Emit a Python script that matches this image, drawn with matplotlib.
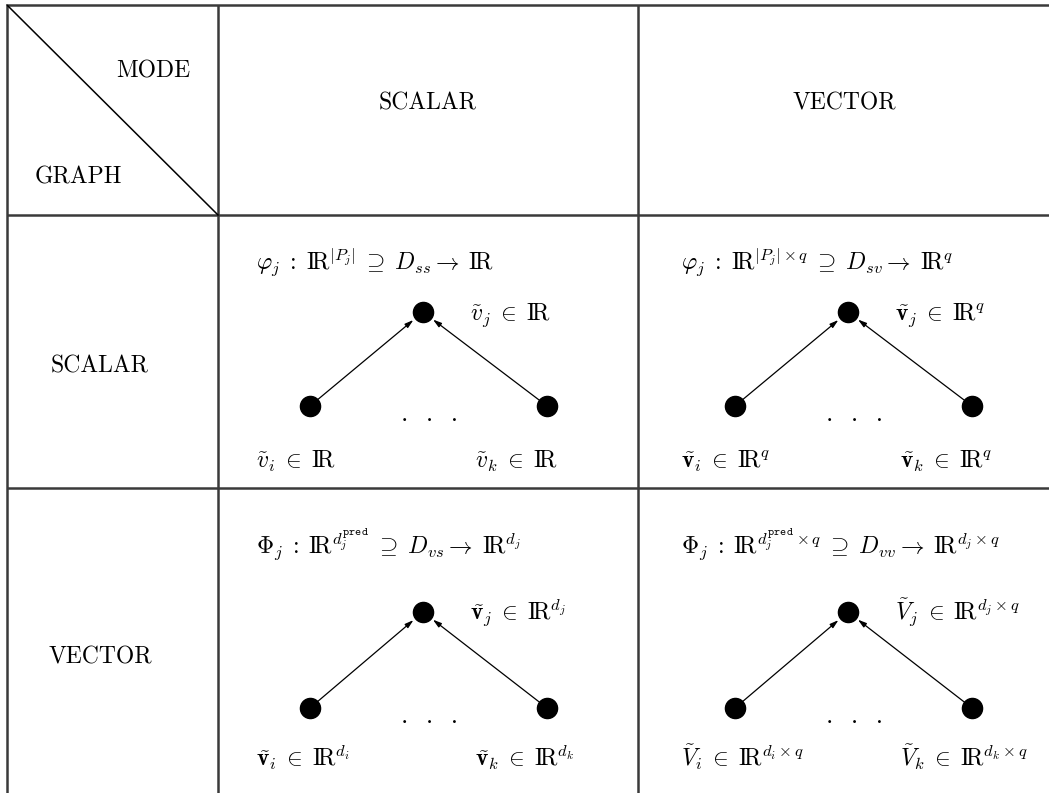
import matplotlib
matplotlib.use("Agg")
import matplotlib.pyplot as plt

plt.rcParams['mathtext.fontset'] = 'cm'
plt.rcParams['font.family'] = ['cmr10', 'DejaVu Serif']

# Table contents
corner_top = "MODE"
corner_bottom = "GRAPH"
col_labels = ["SCALAR", "VECTOR"]
row_labels = ["SCALAR", "VECTOR"]

R = r"\mathrm{I\!R}"
maps = [
    [r"$\varphi_j\;:\;" + R + r"^{|P_j|}\;\supseteq\;D_{ss}\rightarrow\;" + R + "$",
     r"$\varphi_j\;:\;" + R + r"^{|P_j|\times q}\;\supseteq\;D_{sv}\rightarrow\;" + R + "^q$"],
    [r"$\Phi_j\;:\;" + R + r"^{d_j^{\mathtt{pred}}}\;\supseteq\;D_{vs}\rightarrow\;" + R + "^{d_j}$",
     r"$\Phi_j\;:\;" + R + r"^{d_j^{\mathtt{pred}}\times q}\;\supseteq\;D_{vv}\rightarrow\;" + R + r"^{d_j\times q}$"],
]
top_labels = [
    [r"$\tilde{v}_j\;\in\;" + R + "$", r"$\tilde{\mathbf{v}}_j\;\in\;" + R + "^q$"],
    [r"$\tilde{\mathbf{v}}_j\;\in\;" + R + "^{d_j}$", r"$\tilde{V}_j\;\in\;" + R + r"^{d_j\times q}$"],
]
left_labels = [
    [r"$\tilde{v}_i\;\in\;" + R + "$", r"$\tilde{\mathbf{v}}_i\;\in\;" + R + "^q$"],
    [r"$\tilde{\mathbf{v}}_i\;\in\;" + R + "^{d_i}$", r"$\tilde{V}_i\;\in\;" + R + r"^{d_i\times q}$"],
]
right_labels = [
    [r"$\tilde{v}_k\;\in\;" + R + "$", r"$\tilde{\mathbf{v}}_k\;\in\;" + R + "^q$"],
    [r"$\tilde{\mathbf{v}}_k\;\in\;" + R + "^{d_k}$", r"$\tilde{V}_k\;\in\;" + R + r"^{d_k\times q}$"],
]

# Layout (pixels)
W, H = 1049, 793
col_edges = [7, 218, 638, 1060]
row_edges = [5, 215, 488, 800]
# vertical offsets inside each body row: formula, top node, bottom nodes, bottom labels
row_offsets = [(55, 97, 191, 245), (66, 124, 220, 270)]

fig = plt.figure(figsize=(W / 100, H / 100), dpi=100)
ax = fig.add_axes([0, 0, 1, 1])
ax.set_xlim(0, W)
ax.set_ylim(H, 0)
ax.axis('off')

# grid lines
grid_kw = dict(color='#3a3a3a', lw=1.8, solid_capstyle='butt')
for x in col_edges[:3]:
    ax.plot([x, x], [row_edges[0], row_edges[-1]], **grid_kw)
for y in row_edges[:3]:
    ax.plot([col_edges[0], col_edges[-1]], [y, y], **grid_kw)
ax.plot([col_edges[0], col_edges[1]], [row_edges[0], row_edges[1]], color='black', lw=1.1)

fs = 17
ax.text(190, 71, corner_top, fontsize=fs, ha='right', va='center')
ax.text(35, 177, corner_bottom, fontsize=fs, ha='left', va='center')
for c, lab in enumerate(col_labels):
    ax.text((col_edges[c + 1] + col_edges[c + 2]) / 2 - 5 * c, 103, lab,
            fontsize=fs, ha='center', va='center')
for r, lab in enumerate(row_labels):
    ax.text(100, (row_edges[r + 1] + row_edges[r + 2]) / 2 + 15 - 2 * r, lab,
            fontsize=fs, ha='center', va='center')

for r in range(2):
    y0 = row_edges[r + 1]
    fy, ty, by, ly = row_offsets[r]
    for c in range(2):
        x0 = col_edges[c + 1] + 5 * c
        ax.text(x0 + 38, y0 + fy, maps[r][c], fontsize=fs, ha='left', va='baseline')
        top = (x0 + 205, y0 + ty)
        left = (x0 + 92, y0 + by)
        right = (x0 + 329, y0 + by)
        for p in (left, right):
            ax.annotate("", xy=top, xytext=p,
                        arrowprops=dict(arrowstyle='-|>,head_length=0.5,head_width=0.15',
                                        color='black', lw=0.9, shrinkA=0, shrinkB=9))
        for p in (top, left, right):
            ax.plot(*p, 'o', color='black', markersize=14.5, zorder=3)
        ax.text(x0 + 212, y0 + by + 15, ".  .  .", fontsize=fs + 2,
                ha='center', va='baseline')
        ax.text(x0 + 252, y0 + ty + 8, top_labels[r][c], fontsize=fs, ha='left', va='baseline')
        ax.text(x0 + 38, y0 + ly + 8, left_labels[r][c], fontsize=fs, ha='left', va='baseline')
        ax.text(x0 + 257, y0 + ly + 8, right_labels[r][c], fontsize=fs, ha='left', va='baseline')

fig.savefig("out.png", dpi=100)
